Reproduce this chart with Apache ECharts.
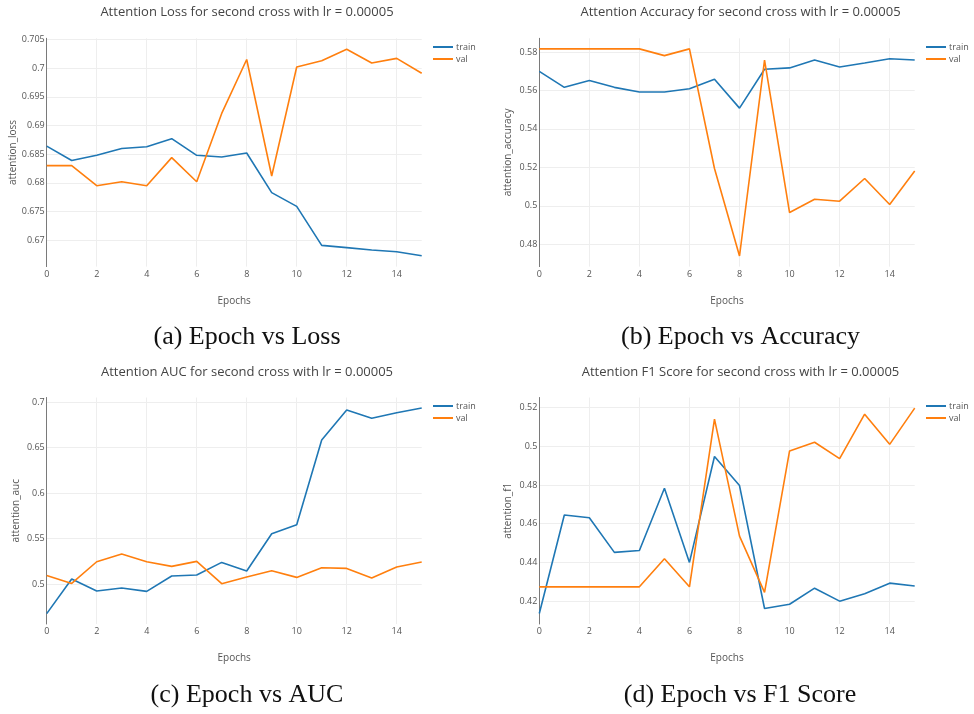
<!DOCTYPE html>
<html><head><meta charset="utf-8">
<script src="https://cdn.jsdelivr.net/npm/echarts@6/dist/echarts.min.js"></script>
<style>html,body{margin:0;padding:0;background:#fff}#c{width:974px;height:714px}</style>
</head><body><div id="c"></div>
<script>
const epochs = [0,1,2,3,4,5,6,7,8,9,10,11,12,13,14,15];
const xTicks = [0,2,4,6,8,10,12,14];

const lossTrain = [0.6864,0.6839,0.6848,0.6860,0.6863,0.6877,0.6848,0.6845,0.6852,0.6783,0.6759,0.6691,0.6687,0.6683,0.6680,0.6673];
const lossVal   = [0.6830,0.6830,0.6795,0.6802,0.6795,0.6844,0.6802,0.6921,0.7015,0.6812,0.7002,0.7013,0.7033,0.7009,0.7017,0.6991];
const lossTicks = [0.67,0.675,0.68,0.685,0.69,0.695,0.7,0.705];

const accTrain = [0.5699,0.5616,0.5652,0.5616,0.5592,0.5592,0.5609,0.5658,0.5508,0.5710,0.5717,0.5758,0.5722,0.5743,0.5765,0.5758];
const accVal   = [0.5816,0.5816,0.5816,0.5816,0.5816,0.5781,0.5816,0.5194,0.4739,0.5758,0.4965,0.5034,0.5024,0.5142,0.5007,0.5181];
const accTicks = [0.48,0.5,0.52,0.54,0.56,0.58];

const aucTrain = [0.4674,0.5055,0.4923,0.4956,0.4919,0.5088,0.5099,0.5238,0.5143,0.5553,0.5652,0.6586,0.6916,0.6824,0.6886,0.6938];
const aucVal   = [0.5095,0.5007,0.5245,0.5330,0.5245,0.5194,0.5249,0.5004,0.5077,0.5147,0.5073,0.5179,0.5172,0.5066,0.5187,0.5242];
const aucTicks = [0.5,0.55,0.6,0.65,0.7];

const f1Train = [0.4136,0.4645,0.4631,0.4452,0.4462,0.4783,0.4400,0.4947,0.4797,0.4162,0.4184,0.4267,0.4200,0.4238,0.4293,0.4278];
const f1Val   = [0.4274,0.4274,0.4274,0.4274,0.4274,0.4419,0.4274,0.5140,0.4536,0.4245,0.4976,0.5021,0.4936,0.5166,0.5010,0.5197];
const f1Ticks = [0.42,0.44,0.46,0.48,0.5,0.52];

const titles = [
  'Attention Loss for second cross with lr = 0.00005',
  'Attention Accuracy for second cross with lr = 0.00005',
  'Attention AUC for second cross with lr = 0.00005',
  'Attention F1 Score for second cross with lr = 0.00005'
];
const captions = ['(a) Epoch vs Loss','(b) Epoch vs Accuracy','(c) Epoch vs AUC','(d) Epoch vs F1 Score'];
const yNames = ['attention_loss','attention_accuracy','attention_auc','attention_f1'];
const seriesNames = ['train','val'];

const panels = [
  {train: lossTrain, val: lossVal, ticks: lossTicks, min: 0.6654, max: 0.7052},
  {train: accTrain,  val: accVal,  ticks: accTicks,  min: 0.4684, max: 0.5871},
  {train: aucTrain,  val: aucVal,  ticks: aucTicks,  min: 0.4560, max: 0.7053},
  {train: f1Train,   val: f1Val,   ticks: f1Ticks,   min: 0.4082, max: 0.5252}
];

// layout (pixels)
const grids = [
  {left: 46.7,  top: 38.3,  width: 375,   height: 228.3},
  {left: 539.3, top: 38.3,  width: 375.4, height: 228.3},
  {left: 46.7,  top: 397.5, width: 375,   height: 226.5},
  {left: 539.3, top: 397.5, width: 375.4, height: 226.5}
];
const titlePos = [[247,12.5],[740.5,12.5],[247,372],[740.5,372]];
const captionPos = [[247,337],[740.5,337],[247,695],[740,695]];
const legendPos = [[433,42.5],[926,42.5],[433,401.5],[926,401.5]];
const yNameGap = [26,26,26,26];

const FONT = '"Open Sans", sans-serif';
const TXT = '#555';
const colors = ['#1f77b4','#ff7f0e'];

const option = {
  backgroundColor: '#fff',
  animation: false,
  grid: grids.map(g => Object.assign({containLabel: false}, g)),
  xAxis: grids.map((g, i) => ({
    type: 'value', gridIndex: i, min: 0, max: 15,
    name: 'Epochs', nameLocation: 'middle', nameGap: 29.5,
    nameTextStyle: {fontFamily: FONT, fontSize: 10, color: TXT},
    axisLine: {show: false}, axisTick: {show: false, customValues: xTicks},
    axisLabel: {customValues: xTicks, fontFamily: FONT, fontSize: 9, color: TXT, margin: 3},
    splitLine: {show: true, lineStyle: {color: '#eeeeee', width: 1}}
  })),
  yAxis: panels.map((p, i) => ({
    type: 'value', gridIndex: i, min: p.min, max: p.max,
    name: yNames[i], nameLocation: 'middle', nameGap: yNameGap[i], nameRotate: 90,
    nameTextStyle: {fontFamily: FONT, fontSize: 10, color: TXT},
    axisLine: {show: true, lineStyle: {color: '#7a7a7a', width: 1}},
    axisTick: {show: false, customValues: p.ticks},
    axisLabel: {customValues: p.ticks, fontFamily: FONT, fontSize: 9, color: TXT, margin: 2,
      formatter: v => String(+(+v).toFixed(4))},
    splitLine: {show: true, lineStyle: {color: '#eeeeee', width: 1}}
  })),
  legend: panels.map((p, i) => ({
    orient: 'vertical', left: legendPos[i][0], top: legendPos[i][1],
    data: seriesNames.map(n => ({name: n})),
    icon: 'rect', itemWidth: 20, itemHeight: 2, itemGap: 3,
    textStyle: {fontFamily: FONT, fontSize: 9, color: TXT, padding: [0,0,0,-2]},
    padding: 0,
    seriesIndex: [2*i, 2*i+1]
  })),
  series: [],
  graphic: []
};

panels.forEach((p, i) => {
  ['train','val'].forEach((k, j) => {
    option.series.push({
      type: 'line', name: seriesNames[j], xAxisIndex: i, yAxisIndex: i,
      data: epochs.map((e, n) => [e, p[k][n]]),
      showSymbol: false, symbol: 'none',
      lineStyle: {color: colors[j], width: 1.6},
      itemStyle: {color: colors[j]}
    });
  });
  option.graphic.push({
    type: 'text', x: titlePos[i][0], y: titlePos[i][1],
    style: {text: titles[i], fontFamily: FONT, fontSize: 13, fill: '#444', align: 'center', verticalAlign: 'middle'}
  });
  option.graphic.push({
    type: 'text', x: captionPos[i][0], y: captionPos[i][1],
    style: {text: captions[i], fontFamily: '"Liberation Serif", serif', fontSize: 26, fill: '#111', align: 'center', verticalAlign: 'middle'}
  });
});

const chart = echarts.init(document.getElementById('c'), null, {renderer: 'canvas'});
chart.setOption(option);
</script>
</body></html>
